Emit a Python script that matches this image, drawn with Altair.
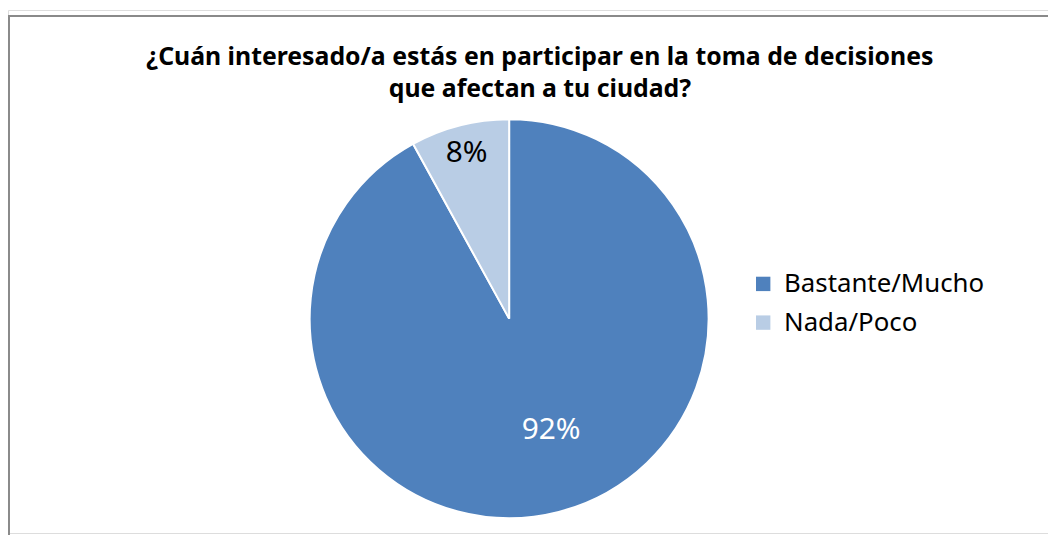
import altair as alt
import pandas as pd

categories = ["Bastante/Mucho", "Nada/Poco"]
values = [92, 8]
labels = ["92%", "8%"]
colors = ["#4F81BD", "#B9CDE5"]
title_lines = ["¿Cuán interesado/a estás en participar en la toma de decisiones",
               "que afectan a tu ciudad?"]

FONT = "Noto Sans"
df = pd.DataFrame({"cat": categories, "val": values, "label": labels, "ord": [0, 1]})

XO = 4
CX, CY, R = 501 + XO, 311, 201

base = alt.Chart(df)

pie = base.mark_arc(outerRadius=R, stroke="white", strokeWidth=2).encode(
    theta=alt.Theta("val:Q", stack=True, scale=alt.Scale(domain=[0, 100])),
    order=alt.Order("ord:Q"),
    color=alt.Color(
        "cat:N",
        scale=alt.Scale(domain=categories, range=colors),
        legend=alt.Legend(
            title=None, orient="none", legendX=744 + XO, legendY=263,
            symbolType="square", symbolSize=210, symbolStrokeWidth=0,
            labelFontSize=26, labelFont=FONT, labelColor="#000000", labelLimit=0,
            rowPadding=13, symbolOffset=0, labelOffset=8,
        ),
    ),
    x=alt.value(CX), y=alt.value(CY),
)

lab_base = base.transform_window(
    cum="sum(val)", sort=[alt.SortField("ord")], frame=[None, 0]
).transform_calculate(mid="datum.cum - datum.val / 2")

lab_big = lab_base.transform_filter(alt.datum.ord == 0).mark_text(
    radius=118, fontSize=30, font=FONT, color="white", dx=13, dy=-2
).encode(
    theta=alt.Theta("mid:Q", stack=None, scale=alt.Scale(domain=[0, 100])),
    text="label:N",
    x=alt.value(CX), y=alt.value(CY),
)

lab_small = lab_base.transform_filter(alt.datum.ord == 1).mark_text(
    radius=172, fontSize=30, font=FONT, color="black"
).encode(
    theta=alt.Theta("mid:Q", stack=None, scale=alt.Scale(domain=[0, 100])),
    text="label:N",
    x=alt.value(CX), y=alt.value(CY),
)

tdf = pd.DataFrame({"t": title_lines, "i": [0, 1]})
title = alt.Chart(tdf).mark_text(fontSize=25, fontWeight="bold", font=FONT, color="black").encode(
    text="t:N",
    x=alt.value(532 + XO),
    y=alt.Y("i:Q", scale=alt.Scale(domain=[0, 1], range=[47, 80]), axis=None),
)

border = alt.Chart(pd.DataFrame({"a": [0]})).mark_rect(
    filled=False, stroke="#8a8a8a", strokeWidth=2
).encode(x=alt.value(1), y=alt.value(6), x2=alt.value(1300), y2=alt.value(900))

chart = alt.layer(border, pie, lab_big, lab_small, title).resolve_scale(
    y="independent", theta="shared"
).properties(
    width=1048, height=527, autosize=alt.AutoSizeParams(type="none"), padding=0
).configure_view(stroke=None).configure(background="white")

chart.save("out.html", embed_options={"renderer": "svg", "actions": False})
